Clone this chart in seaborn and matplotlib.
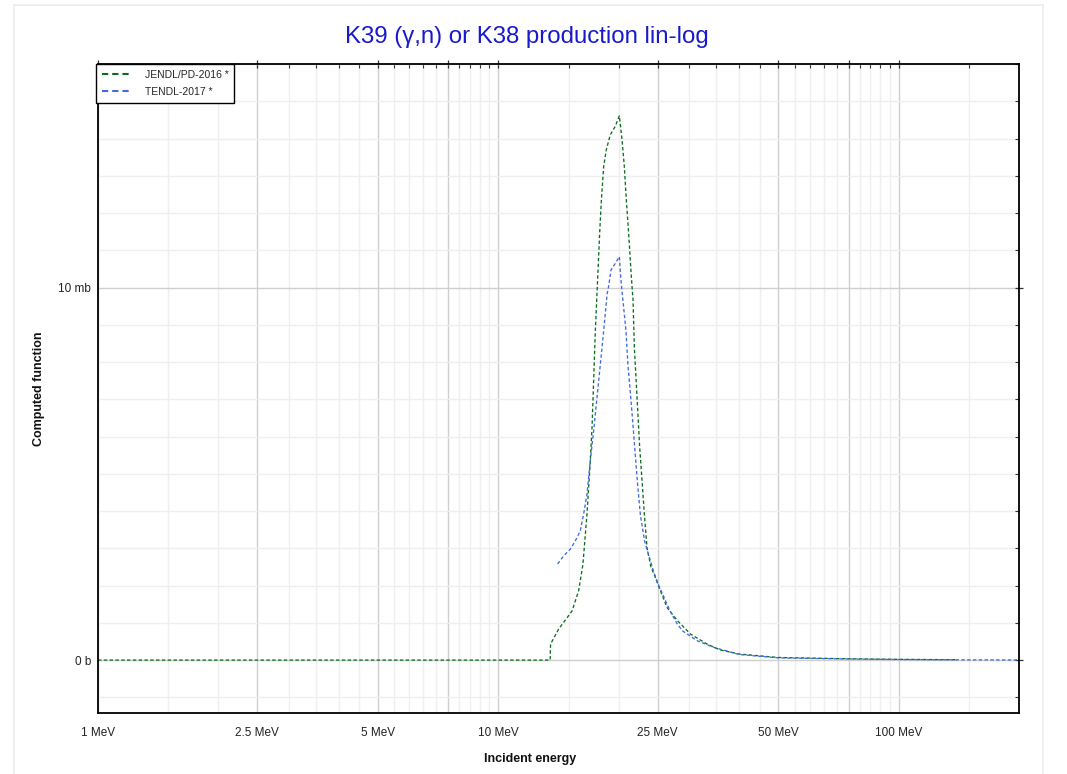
import matplotlib
matplotlib.use("Agg")
import matplotlib.pyplot as plt
import matplotlib.ticker as mticker
from matplotlib.lines import Line2D
from matplotlib.patches import Rectangle
import seaborn as sns
import pandas as pd

# JENDL/PD-2016 (energy in MeV, cross section in mb)
jendl_energy = [1.0, 13.48, 13.51, 14.15, 15.29, 15.88, 16.28, 16.66, 16.98, 17.15, 17.31,
                17.48, 17.65, 17.92, 18.10, 18.34, 18.62, 19.05, 19.61, 20.07, 20.38,
                20.65, 20.89, 21.17, 21.50, 21.71, 21.88, 22.22, 22.56, 22.87, 23.17,
                23.53, 24.08, 24.69, 25.12, 26.41, 27.97, 30.2, 33.25, 35.89, 40.2,
                50.0, 75.0, 100.0, 140.0]
jendl_xs = [0.0, 0.0, 0.43, 0.83, 1.32, 1.86, 2.58, 3.92, 5.35, 6.24, 7.5,
            8.84, 9.85, 11.46, 12.36, 13.25, 13.7, 14.1, 14.33, 14.61, 13.97,
            13.25, 12.36, 11.46, 10.3, 9.67, 8.39, 7.05, 5.71, 4.81, 3.92,
            3.02, 2.49, 2.22, 2.0, 1.41, 1.07, 0.7, 0.43, 0.27, 0.16,
            0.07, 0.035, 0.02, 0.01]

# TENDL-2017
tendl_energy = [14.07, 14.57, 15.14, 15.58, 16.03, 16.34, 16.66, 16.98, 17.31, 17.65,
                17.99, 18.34, 18.70, 18.87, 19.13, 19.61, 20.07, 20.19, 20.38, 20.85,
                21.08, 21.43, 21.71, 22.0, 22.3, 22.65, 23.2, 23.71, 24.41, 25.0,
                25.96, 26.92, 28.0, 28.9, 31.4, 34.6, 40.0, 50.0, 75.0, 100.0,
                150.0, 200.0]
tendl_xs = [2.58, 2.80, 2.98, 3.2, 3.47, 3.92, 4.45, 5.35, 6.15, 7.05,
            7.94, 8.84, 9.82, 10.03, 10.47, 10.65, 10.83, 10.39, 9.9, 8.84,
            7.94, 7.05, 6.3, 5.5, 4.7, 3.9, 3.2, 2.85, 2.4, 2.08,
            1.68, 1.3, 0.97, 0.78, 0.52, 0.34, 0.15, 0.06, 0.03, 0.015,
            0.006, 0.003]

x_major = [1, 2.5, 5, 7.5, 10, 25, 50, 75, 100]
x_major_labels = ["1 MeV", "2.5 MeV", "5 MeV", "", "10 MeV", "25 MeV", "50 MeV", "", "100 MeV"]
x_minor = [1.5, 2, 3, 3.5, 4, 4.5, 5.5, 6, 6.5, 7, 8, 8.5, 9, 9.5,
           15, 20, 30, 35, 40, 45, 55, 60, 65, 70, 80, 85, 90, 95, 150]
y_major = [0, 10]
y_major_labels = ["0 b", "10 mb"]
y_minor = [-1, 1, 2, 3, 4, 5, 6, 7, 8, 9, 11, 12, 13, 14, 15, 16]

libraries = ["JENDL/PD-2016 *", "TENDL-2017 *"]
colors = {"JENDL/PD-2016 *": "#0b6e1f", "TENDL-2017 *": "#4169e1"}

df = pd.concat([
    pd.DataFrame({"energy": jendl_energy, "xs": jendl_xs, "library": libraries[0]}),
    pd.DataFrame({"energy": tendl_energy, "xs": tendl_xs, "library": libraries[1]}),
])

sns.set_theme(style="white")
plt.rcParams["font.family"] = ["Liberation Sans", "DejaVu Sans"]

fig = plt.figure(figsize=(10.67, 7.74), dpi=100)
ax = fig.add_axes([98 / 1067, 1 - 713 / 774, (1019 - 98) / 1067, (713 - 64) / 774])

# faint outer frame
fig.patches.append(Rectangle((14 / 1067, -0.02), (1043 - 14) / 1067, 1.02 - 5 / 774,
                             transform=fig.transFigure, fill=False,
                             edgecolor="#ececec", lw=1.2, zorder=0))

sns.lineplot(data=df, x="energy", y="xs", hue="library", style="library",
             palette=colors, dashes={libraries[0]: (2.6, 1.8), libraries[1]: (2.6, 1.8)},
             estimator=None, sort=False, lw=0.95, legend=False, ax=ax)

ax.set_xscale("log")
ax.set_xlim(1, 200)
ax.set_ylim(-1.42, 16)

ax.xaxis.set_major_locator(mticker.FixedLocator(x_major))
ax.xaxis.set_major_formatter(mticker.FixedFormatter(x_major_labels))
ax.xaxis.set_minor_locator(mticker.FixedLocator(x_minor))
ax.xaxis.set_minor_formatter(mticker.NullFormatter())
ax.yaxis.set_major_locator(mticker.FixedLocator(y_major))
ax.yaxis.set_major_formatter(mticker.FixedFormatter(y_major_labels))
ax.yaxis.set_minor_locator(mticker.FixedLocator(y_minor))

ax.grid(which="major", color="#cfcfcf", lw=1.0)
ax.grid(which="minor", color="#efefef", lw=1.0)
ax.set_axisbelow(True)

for s in ax.spines.values():
    s.set_color("black")
    s.set_linewidth(1.3)

ax.tick_params(which="major", direction="inout", length=6, width=0.9, color="#333333",
               labelsize=8.5, labelcolor="#222222", top=True, right=True)
ax.tick_params(which="minor", direction="in", length=3, width=0.8, color="#333333",
               top=True, right=True)
ax.tick_params(axis="x", which="major", pad=7)
ax.tick_params(axis="y", which="major", pad=2)

ax.set_xlabel("Incident energy", fontsize=9, fontweight="bold", color="#111111")
ax.set_ylabel("Computed function", fontsize=9, fontweight="bold", color="#111111")
ax.xaxis.set_label_coords(0.469, -0.061)
ax.yaxis.set_label_coords(-0.058, 0.5)

fig.text(527 / 1067, 1 - 37 / 774, "K39 (γ,n) or K38 production lin-log",
         ha="center", va="center", fontsize=17.3, color="#1a1acc")

handles = [Line2D([], [], color=colors[lib], lw=1.5, dashes=(3.0, 1.9)) for lib in libraries]
leg = ax.legend(handles, libraries, loc="upper left", bbox_to_anchor=(-0.002, 1.0),
                borderaxespad=0, fontsize=7.5, handlelength=2.9, handletextpad=1.2,
                borderpad=0.55, labelspacing=0.7, fancybox=False, framealpha=1,
                edgecolor="black")
leg.get_frame().set_linewidth(1.0)

fig.savefig("out.png", dpi=100)
